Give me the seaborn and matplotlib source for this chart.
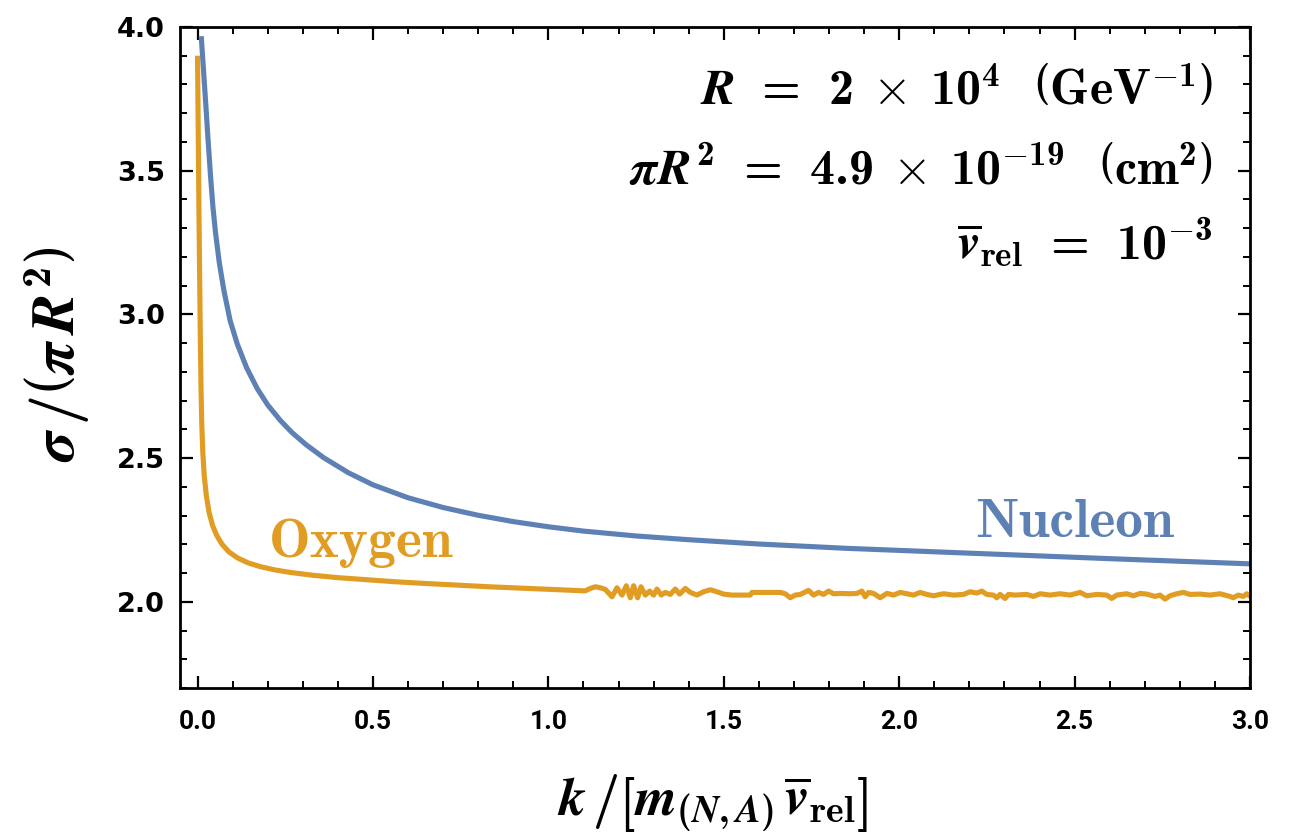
import matplotlib
matplotlib.use("Agg")
import matplotlib.pyplot as plt
from matplotlib.ticker import FixedLocator, MultipleLocator
import pandas as pd
import seaborn as sns

# Scattering cross section in units of pi R^2 versus k / [m v_rel]
nucleon_k = [0.0105, 0.017, 0.023, 0.030, 0.037, 0.044, 0.051, 0.062, 0.075, 0.093,
             0.113, 0.14, 0.17, 0.20, 0.236, 0.27, 0.31, 0.36, 0.43, 0.50,
             0.60, 0.70, 0.80, 0.90, 1.00, 1.10, 1.25, 1.40, 1.60, 1.85,
             2.10, 2.35, 2.60, 2.80, 3.00]
nucleon_sigma = [3.968, 3.850, 3.740, 3.607, 3.482, 3.372, 3.287, 3.180, 3.084, 2.978,
                 2.898, 2.814, 2.742, 2.685, 2.631, 2.588, 2.546, 2.501, 2.449, 2.407,
                 2.362, 2.328, 2.301, 2.279, 2.261, 2.246, 2.229, 2.216, 2.201, 2.186,
                 2.174, 2.162, 2.150, 2.141, 2.132]

oxygen_k = [0.000, 0.002, 0.004, 0.006, 0.008, 0.010, 0.012, 0.015, 0.019, 0.025,
            0.033, 0.043, 0.055, 0.07, 0.09, 0.115, 0.145, 0.18, 0.22, 0.265,
            0.33, 0.40, 0.48, 0.56, 0.645, 0.74, 0.835, 0.93, 1.025, 1.105,
            1.1197, 1.1339, 1.1482, 1.1624, 1.1814, 1.1956, 1.2099, 1.2222, 1.2336, 1.2431,
            1.2545, 1.2640, 1.2764, 1.2887, 1.3001, 1.3096, 1.3219, 1.3333, 1.3476, 1.3618,
            1.3742, 1.3903, 1.4046, 1.4235, 1.4425, 1.4615, 1.4805, 1.4995, 1.5233, 1.5755,
            1.5803, 1.6610, 1.6752, 1.6895, 1.7037, 1.7180, 1.7417, 1.7560, 1.7702, 1.7844,
            1.7987, 1.8129, 1.8319, 1.8604, 1.8794, 1.8936, 1.9031, 1.9126, 1.9269, 1.9459,
            1.9649, 1.9839, 2.0029,
            2.0218, 2.0408, 2.0598, 2.0788, 2.0978, 2.1263, 2.1548, 2.1833, 2.2023, 2.2213,
            2.2355, 2.2498, 2.2688, 2.2783, 2.2878, 2.3020, 2.3115, 2.3305, 2.3637, 2.3827,
            2.4017, 2.4302, 2.4587, 2.4872, 2.5157, 2.5347, 2.5632, 2.5917, 2.6059, 2.6201,
            2.6486, 2.6676, 2.6866, 2.7056, 2.7294, 2.7436, 2.7579, 2.7721, 2.7911, 2.8101,
            2.8291, 2.8576, 2.8860, 2.9145, 2.9430, 2.9525, 2.9668, 2.9810, 2.9905, 2.9981,
            3.0000]
oxygen_sigma = [3.90, 3.62, 3.36, 3.12, 2.91, 2.74, 2.62, 2.52, 2.44, 2.37,
                2.31, 2.265, 2.230, 2.200, 2.173, 2.152, 2.135, 2.122, 2.111, 2.102,
                2.092, 2.084, 2.077, 2.070, 2.064, 2.058, 2.052, 2.047, 2.042, 2.038,
                2.0465, 2.0523, 2.0488, 2.0430, 2.0174, 2.0488, 2.0233, 2.0558, 2.0140, 2.0558,
                2.0140, 2.0523, 2.0233, 2.0372, 2.0233, 2.0442, 2.0233, 2.0326, 2.0256, 2.0442,
                2.0267, 2.0465, 2.0326, 2.0233, 2.0349, 2.0419, 2.0349, 2.0267, 2.0233, 2.0233,
                2.0326, 2.0326, 2.0279, 2.0140, 2.0233, 2.0256, 2.0395, 2.0233, 2.0326, 2.0256,
                2.0372, 2.0279, 2.0291, 2.0279, 2.0291, 2.0372, 2.0174, 2.0326, 2.0291, 2.0140,
                2.0291, 2.0233, 2.0326,
                2.0279, 2.0233, 2.0326, 2.0256, 2.0209, 2.0279, 2.0233, 2.0256, 2.0349, 2.0302,
                2.0372, 2.0256, 2.0233, 2.0140, 2.0256, 2.0116, 2.0256, 2.0233, 2.0256, 2.0186,
                2.0279, 2.0233, 2.0279, 2.0233, 2.0326, 2.0209, 2.0256, 2.0233, 2.0116, 2.0233,
                2.0279, 2.0209, 2.0291, 2.0267, 2.0186, 2.0233, 2.0093, 2.0209, 2.0279, 2.0326,
                2.0256, 2.0267, 2.0233, 2.0279, 2.0186, 2.0140, 2.0233, 2.0186, 2.0279, 2.0209,
                2.0220]

x_ticks = [0.0, 0.5, 1.0, 1.5, 2.0, 2.5, 3.0]
x_tick_labels = ["0.0", "0.5", "1.0", "1.5", "2.0", "2.5", "3.0"]
y_ticks = [2.0, 2.5, 3.0, 3.5, 4.0]
y_tick_labels = ["2.0", "2.5", "3.0", "3.5", "4.0"]

BLUE = "#5E81B5"
ORANGE = "#E19C24"

df = pd.concat([
    pd.DataFrame({"k": nucleon_k, "sigma": nucleon_sigma, "target": "Nucleon"}),
    pd.DataFrame({"k": oxygen_k, "sigma": oxygen_sigma, "target": "Oxygen"}),
], ignore_index=True)

sns.set_theme(style="white")
plt.rcParams.update({
    "mathtext.fontset": "custom",
    "mathtext.rm": "cmb10",
    "mathtext.bf": "cmb10",
    "mathtext.it": "STIXGeneral:italic:bold",
    "mathtext.fallback": "cm",
    "axes.edgecolor": "black",
    "axes.linewidth": 2.0,
    "text.color": "black",
    "axes.labelcolor": "black",
    "xtick.color": "black",
    "ytick.color": "black",
})

fig = plt.figure(figsize=(12.97, 8.36), dpi=100)
ax = fig.add_axes([180 / 1297, 1 - 688 / 836, 1070 / 1297, 661 / 836])

sns.lineplot(data=df, x="k", y="sigma", hue="target",
             palette={"Nucleon": BLUE, "Oxygen": ORANGE},
             hue_order=["Nucleon", "Oxygen"],
             estimator=None, sort=False, legend=False,
             linewidth=3.7, ax=ax)
for ln in ax.get_lines():
    ln.set_solid_capstyle("butt")
    ln.set_solid_joinstyle("round")

ax.set_xlim(-0.05, 3.0)
ax.set_ylim(1.7, 4.0)

ax.xaxis.set_major_locator(FixedLocator(x_ticks))
ax.xaxis.set_minor_locator(MultipleLocator(0.1))
ax.yaxis.set_major_locator(FixedLocator(y_ticks))
ax.yaxis.set_minor_locator(MultipleLocator(0.1))
ax.set_xticklabels(x_tick_labels)
ax.set_yticklabels(y_tick_labels)

ax.tick_params(which="both", direction="in", top=True, right=True,
               bottom=True, left=True, color="black")
ax.tick_params(which="major", length=9, width=1.6)
ax.tick_params(which="minor", length=5, width=1.4)
ax.tick_params(axis="x", which="major", pad=16)
ax.tick_params(axis="y", which="major", pad=11)

for lab in ax.get_xticklabels():
    lab.set_fontfamily(["Liberation Sans Narrow", "DejaVu Sans Condensed", "Roboto", "DejaVu Sans"])
    lab.set_fontweight("bold")
    lab.set_fontsize(19)
    lab.set_color("black")
for lab in ax.get_yticklabels():
    lab.set_fontfamily(["DejaVu Sans"])
    lab.set_fontweight("bold")
    lab.set_fontsize(19.5)
    lab.set_color("black")

for side in ["left", "right", "top", "bottom"]:
    ax.spines[side].set_visible(True)
    ax.spines[side].set_color("black")
    ax.spines[side].set_linewidth(2.0)

ax.set_xlabel(r"$k\,/\left[m_{(N,A)}\,\overline{v}_{\mathrm{rel}}\right]$",
              fontsize=39, va="top")
ax.xaxis.set_label_coords(0.498, -0.128)
ax.set_ylabel(r"$\sigma\,/\left(\pi\, R^{2}\right)$", fontsize=43, va="center")
ax.yaxis.set_label_coords(-0.115, 0.505)

ax.text(0.202, 2.157, "Oxygen", color=ORANGE, fontsize=40,
        fontfamily="cmb10", ha="left", va="baseline")
ax.text(2.217, 2.227, "Nucleon", color=BLUE, fontsize=40,
        fontfamily="cmb10", ha="left", va="baseline")

ann_size = 36
ax.text(0.9654, 0.882,
        r"$R\;\:=\;\:2\;\:\times\;\:10^{4}\;\;\;\left(\mathrm{GeV}^{-1}\right)$",
        transform=ax.transAxes, ha="right", va="baseline", fontsize=ann_size)
ax.text(0.9654, 0.761,
        r"$\pi R^{2}\;\:=\;\:4.9\;\:\times\;\:10^{-19}\;\;\;\left(\mathrm{cm}^{2}\right)$",
        transform=ax.transAxes, ha="right", va="baseline", fontsize=ann_size)
ax.text(0.9654, 0.6475, r"$\overline{v}_{\mathrm{rel}}\;\:=\;\:10^{-3}$",
        transform=ax.transAxes, ha="right", va="baseline", fontsize=ann_size)

fig.savefig("out.png", dpi=100, facecolor="white")
